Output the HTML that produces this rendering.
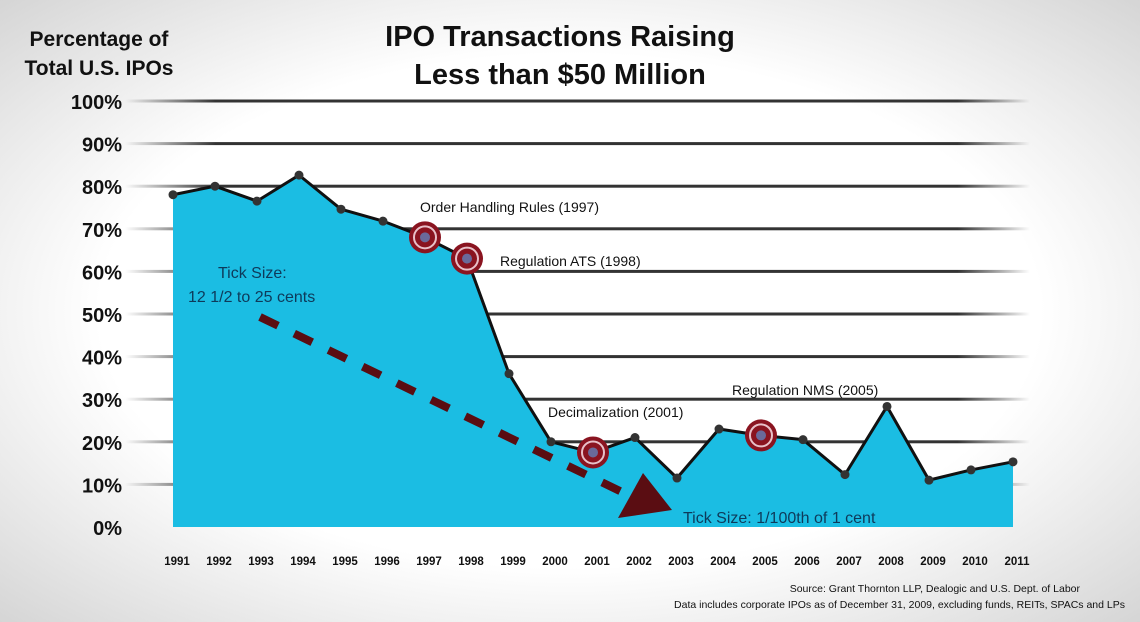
<!DOCTYPE html>
<html><head><meta charset="utf-8"><style>
body{margin:0;width:1140px;height:622px;overflow:hidden;background:#fff;}
svg{display:block;font-family:"Liberation Sans",sans-serif;}
</style></head><body>
<svg id="chart" width="1140" height="622" viewBox="0 0 1140 622">
<defs>
<radialGradient id="bg" cx="0.5" cy="0.5" r="0.75">
<stop offset="0.55" stop-color="#ffffff"/><stop offset="1" stop-color="#cfcfcf"/></radialGradient>
<linearGradient id="gl" x1="0" x2="1"><stop offset="0" stop-color="#333" stop-opacity="0"/><stop offset="0.1" stop-color="#333"/><stop offset="0.92" stop-color="#333"/><stop offset="1" stop-color="#333" stop-opacity="0"/></linearGradient>
</defs>
<rect width="1140" height="622" fill="url(#bg)"/>
<text x="560" y="46" text-anchor="middle" font-size="29" font-weight="bold" fill="#111">IPO Transactions Raising</text>
<text x="560" y="84" text-anchor="middle" font-size="29" font-weight="bold" fill="#111">Less than $50 Million</text>
<text x="99" y="46" text-anchor="middle" font-size="21" font-weight="bold" fill="#111">Percentage of</text>
<text x="99" y="75" text-anchor="middle" font-size="21" font-weight="bold" fill="#111">Total U.S. IPOs</text>
<g id="grid"></g><g id="area"></g><g id="ann"></g>
<text x="1080" y="592" text-anchor="end" font-size="10.5" fill="#111">Source: Grant Thornton LLP, Dealogic and U.S. Dept. of Labor</text>
<text x="1125" y="608" text-anchor="end" font-size="10.5" fill="#111">Data includes corporate IPOs as of December 31, 2009, excluding funds, REITs, SPACs and LPs</text>
</svg>
<script>
const years=[1991,1992,1993,1994,1995,1996,1997,1998,1999,2000,2001,2002,2003,2004,2005,2006,2007,2008,2009,2010,2011];
const values=[78,80,76.5,82.6,74.6,71.8,68,63,36,20,17.5,21,11.5,23,21.5,20.5,12.3,28.3,11,13.4,15.3];
const yTicks=[0,10,20,30,40,50,60,70,80,90,100];
const milestoneYears=[1997,1998,2001,2005];
const NS="http://www.w3.org/2000/svg";
const x=i=>173+i*42;
const y=v=>527-v*4.26;
function mk(t,a,p){const e=document.createElementNS(NS,t);for(const k in a)e.setAttribute(k,a[k]);(p||document.getElementById('chart')).appendChild(e);return e;}
const grid=document.getElementById('grid'),area=document.getElementById('area'),ann=document.getElementById('ann');
yTicks.forEach(t=>{
 if(t>0){const l=mk('rect',{x:125,y:y(t)-1.5,width:905,height:3,fill:'url(#gl)'},grid);
 
 }
 const tx=mk('text',{x:122,y:y(t)+8,'text-anchor':'end','font-size':20,'font-weight':'bold',fill:'#111'},grid);
 tx.textContent=t+'%';
 
 
});
let pts=values.map((v,i)=>x(i)+','+y(v)).join(' ');
const poly=mk('polygon',{points:x(0)+','+y(0)+' '+pts+' '+x(values.length-1)+','+y(0),fill:'#1bbde3'},area);


const line=mk('polyline',{points:pts,fill:'none',stroke:'#111','stroke-width':3,'stroke-linejoin':'round'},area);


values.forEach((v,i)=>{
 const c=mk('circle',{cx:x(i),cy:y(v),r:4.5,fill:'#333'},area);
 
 
 const t=mk('text',{x:x(i)+4,y:565,'text-anchor':'middle','font-size':11.5,'font-weight':'bold',fill:'#111'},area);
 t.textContent=years[i];
 
 
});
milestoneYears.forEach(yr=>{
 const i=years.indexOf(yr),cx=x(i),cy=y(values[i]);
 const g=mk('g',{},ann);
 
 
 mk('circle',{cx:cx,cy:cy,r:16,fill:'#8a1420'},g);
 mk('circle',{cx:cx,cy:cy,r:11,fill:'none',stroke:'#e8c0c8','stroke-width':2},g);
 mk('circle',{cx:cx,cy:cy,r:6,fill:'#6a6a9a',stroke:'#8a1420','stroke-width':2},g);
});
const dash=mk('line',{x1:260,y1:317,x2:622,y2:492,stroke:'#5a0d12','stroke-width':8,'stroke-dasharray':'20 18'},ann);


const head=mk('polygon',{points:'618,518 643,473 672,510',fill:'#5a0d12'},ann);


const labels=[['Order Handling Rules (1997)',420,212,'#111'],['Regulation ATS (1998)',500,266,'#111'],['Decimalization (2001)',548,417,'#111'],['Regulation NMS (2005)',732,395,'#111'],['Tick Size:',218,278,'#0e3a5a'],['12 1/2 to 25 cents',188,302,'#0e3a5a'],['Tick Size: 1/100th of 1 cent',683,523,'#0e3a5a']];
labels.forEach(l=>{
 const t=mk('text',{x:l[1],y:l[2],'font-size':l[3]=='#111'?14:16,fill:l[3]},ann);
 t.textContent=l[0];
 
 
});
</script>
</body></html>
